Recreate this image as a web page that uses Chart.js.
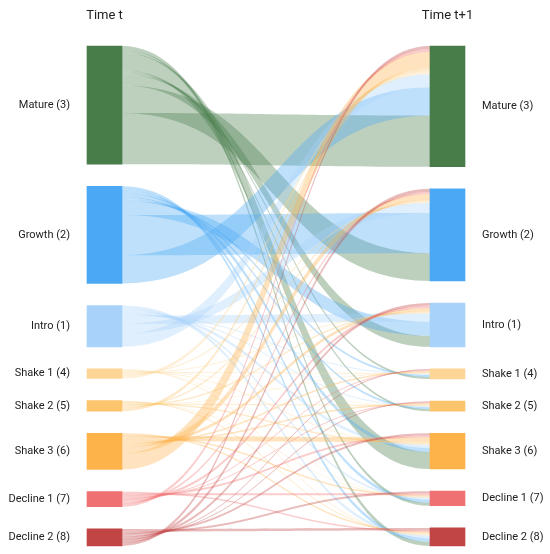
<!DOCTYPE html>
<html>
<head>
<meta charset="utf-8">
<script src="https://cdn.jsdelivr.net/npm/chart.js@4.4.1/dist/chart.umd.min.js"></script>
<style>
	html, body { margin: 0; padding: 0; background: #fff; }
	#wrap { width: 550px; height: 554px; }
</style>
</head>
<body>
<div id="wrap"><canvas id="sankey"></canvas></div>
<script>
// Stages, in the order they are stacked in both columns
const stageLabels = ["Mature (3)", "Growth (2)", "Intro (1)", "Shake 1 (4)", "Shake 2 (5)", "Shake 3 (6)", "Decline 1 (7)", "Decline 2 (8)"];
const stageColors = ["#487d4a", "#4aa8f4", "#a8d2f9", "#fdd597", "#fcc46c", "#fdb24a", "#f07171", "#c24545"];
const columnLabels = ["Time t", "Time t+1"];

// Transitions from each stage at time t to each stage at time t+1
// (same order as stageLabels)
const fromMature = [102, 55, 22, 4, 4, 34, 6, 8];
const fromGrowth = [56, 80, 28, 4, 4, 8, 6, 7];
const fromIntro = [26, 20, 16, 2, 2, 6, 4, 6];
const fromShake1 = [6, 3, 2, 2, 1, 2, 1, 2];
const fromShake2 = [6, 3, 3, 1, 2, 3, 1, 2];
const fromShake3 = [32, 12, 6, 3, 3, 10, 3, 3];
const fromDecline1 = [6, 4, 5, 2, 2, 4, 4, 3];
const fromDecline2 = [6, 6, 5, 2, 2, 4, 4, 5];

const flows = [fromMature, fromGrowth, fromIntro, fromShake1, fromShake2, fromShake3, fromDecline1, fromDecline2];

const NODE_GAP = 44; // gap between nodes, in value units
const NODE_WIDTH = 35;

// Node totals on each side
const leftTotals = flows.map((row) => row.reduce((a, b) => a + b, 0));
const rightTotals = stageLabels.map((_, j) => flows.reduce((a, row) => a + row[j], 0));

function stackNodes(totals) {
	let pos = 0;
	return totals.map((t) => {
		const range = [pos, pos + t];
		pos += t + NODE_GAP;
		return range;
	});
}
const leftNodes = stackNodes(leftTotals);
const rightNodes = stackNodes(rightTotals);
const yMax = Math.max(leftNodes[leftNodes.length - 1][1], rightNodes[rightNodes.length - 1][1]);

// Work out where each link sits on its source and target node.
// Links are ordered with the lowest stage on top, on both sides.
const links = [];
const n = stageLabels.length;
for (let i = 0; i < n; i++) {
	let off = leftNodes[i][0];
	for (let j = n - 1; j >= 0; j--) {
		const v = flows[i][j];
		if (!v) continue;
		links.push({ from: i, to: j, value: v, s0: off, s1: off + v });
		off += v;
	}
}
for (let j = 0; j < n; j++) {
	let off = rightNodes[j][0];
	for (let i = n - 1; i >= 0; i--) {
		const link = links.find((l) => l.from === i && l.to === j);
		if (!link) continue;
		link.t0 = off;
		link.t1 = off + link.value;
		off += link.value;
	}
}

function hexToRgba(hex, a) {
	const r = parseInt(hex.substr(1, 2), 16);
	const g = parseInt(hex.substr(3, 2), 16);
	const b = parseInt(hex.substr(5, 2), 16);
	return "rgba(" + r + "," + g + "," + b + "," + a + ")";
}

// Draws the flow ribbons under the node bars
const linkPlugin = {
	id: "sankeyLinks",
	beforeDatasetsDraw(chart) {
		const ctx = chart.ctx;
		const xs = chart.scales.x;
		const ys = chart.scales.y;
		const x0 = xs.getPixelForValue(0) + NODE_WIDTH / 2;
		const x1 = xs.getPixelForValue(1) - NODE_WIDTH / 2;
		const xm = (x0 + x1) / 2;
		ctx.save();
		links.forEach((l) => {
			const a0 = ys.getPixelForValue(l.s0);
			const a1 = ys.getPixelForValue(l.s1);
			const b0 = ys.getPixelForValue(l.t0);
			const b1 = ys.getPixelForValue(l.t1);
			ctx.beginPath();
			ctx.moveTo(x0, a0);
			ctx.bezierCurveTo(xm, a0, xm, b0, x1, b0);
			ctx.lineTo(x1, b1);
			ctx.bezierCurveTo(xm, b1, xm, a1, x0, a1);
			ctx.closePath();
			ctx.fillStyle = hexToRgba(stageColors[l.from], 0.36);
			ctx.fill();
		});
		ctx.restore();
	},
	afterDatasetsDraw(chart) {
		// Node labels beside each column
		const ctx = chart.ctx;
		const xs = chart.scales.x;
		const ys = chart.scales.y;
		const lx = xs.getPixelForValue(0) - NODE_WIDTH / 2 - 17;
		const rx = xs.getPixelForValue(1) + NODE_WIDTH / 2 + 17;
		ctx.save();
		ctx.font = "11px Roboto";
		ctx.fillStyle = "#222";
		ctx.textBaseline = "middle";
		stageLabels.forEach((label, i) => {
			ctx.textAlign = "right";
			ctx.fillText(label, lx, ys.getPixelForValue((leftNodes[i][0] + leftNodes[i][1]) / 2));
			ctx.textAlign = "left";
			ctx.fillText(label, rx, ys.getPixelForValue((rightNodes[i][0] + rightNodes[i][1]) / 2));
		});
		ctx.restore();
	},
};

const datasets = stageLabels.map((label, i) => ({
	label: label,
	data: [
		{ x: 0, y: leftNodes[i] },
		{ x: 1, y: rightNodes[i] },
	],
	backgroundColor: stageColors[i],
	borderColor: stageColors[i],
	borderWidth: 0,
	borderSkipped: false,
	barThickness: NODE_WIDTH,
	grouped: false,
	clip: false,
}));

new Chart(document.getElementById("sankey").getContext("2d"), {
	type: "bar",
	data: { datasets: datasets },
	options: {
		responsive: true,
		maintainAspectRatio: false,
		animation: false,
		layout: {
			padding: { left: 104.5, right: 102.5, top: 0, bottom: 8 },
		},
		scales: {
			x: {
				type: "linear",
				position: "top",
				min: 0,
				max: 1,
				offset: false,
				grid: { display: false, drawTicks: false },
				border: { display: false },
				afterBuildTicks: (scale) => {
					scale.ticks = [{ value: 0 }, { value: 1 }];
				},
				afterFit: (scale) => {
					scale.height = 46;
				},
				ticks: {
					autoSkip: false,
					maxRotation: 0,
					padding: 22,
					color: "#222",
					font: { family: "Roboto", size: 13 },
					callback: (v) => columnLabels[v],
				},
			},
			y: {
				type: "linear",
				display: false,
				reverse: true,
				min: 0,
				max: yMax,
			},
		},
		plugins: {
			legend: { display: false },
			tooltip: { enabled: false },
		},
	},
	plugins: [linkPlugin],
});
</script>
</body>
</html>
